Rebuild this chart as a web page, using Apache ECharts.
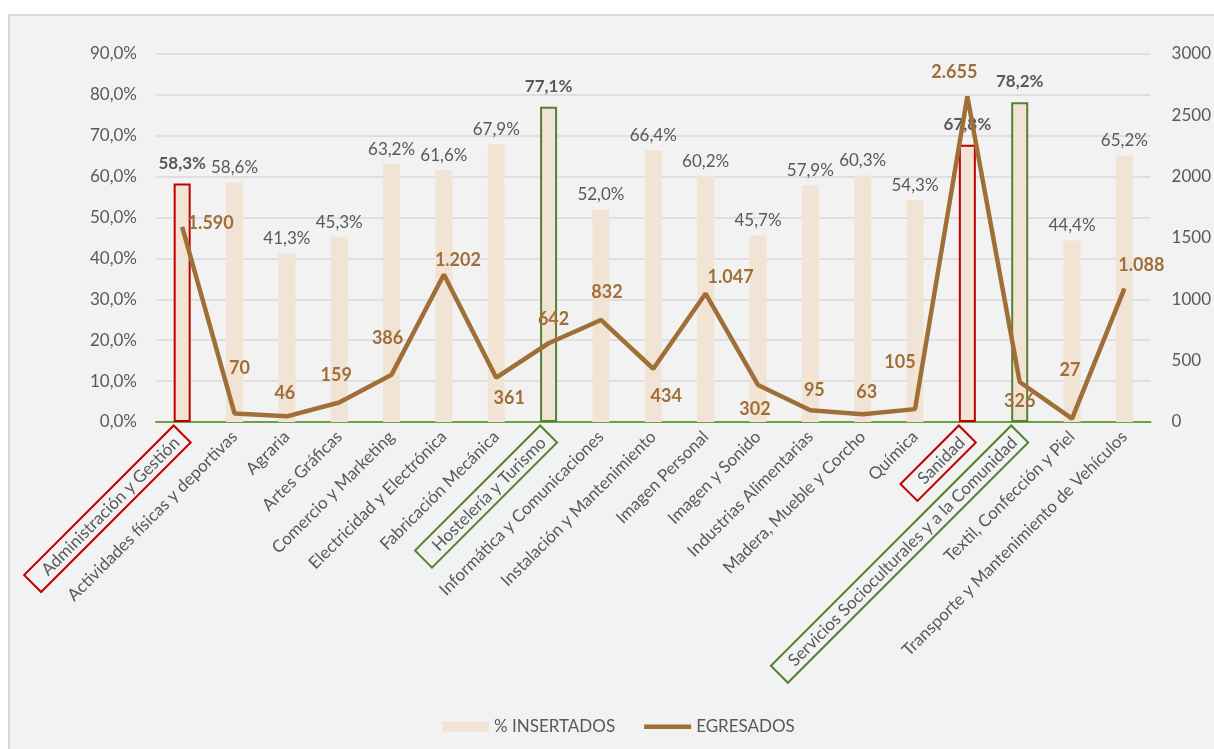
<!DOCTYPE html>
<html><head><meta charset="utf-8">
<script src="https://cdn.jsdelivr.net/npm/echarts@6/dist/echarts.min.js"></script>
<style>
html,body{margin:0;padding:0;background:#fff;overflow:hidden}
#frame{position:absolute;left:8px;top:14px;width:1220px;height:750px;background:#f2f2f2;border-left:2px solid #d9d9d9;border-top:2px solid #d9d9d9}
#chart{position:absolute;left:0;top:0;width:1214px;height:749px}
</style></head>
<body>
<div id="frame"></div>
<div id="chart"></div>
<script>
const categories = ["Administración y Gestión","Actividades físicas y deportivas","Agraria","Artes Gráficas","Comercio y Marketing","Electricidad y Electrónica","Fabricación Mecánica","Hostelería y Turismo","Informática y Comunicaciones","Instalación y Mantenimiento","Imagen Personal","Imagen y Sonido","Industrias Alimentarias","Madera, Mueble y Corcho","Química","Sanidad","Servicios Socioculturales y a la Comunidad","Textil, Confección y Piel","Transporte y Mantenimiento de Vehículos"];
const insertados = [58.3,58.6,41.3,45.3,63.2,61.6,67.9,77.1,52.0,66.4,60.2,45.7,57.9,60.3,54.3,67.8,78.2,44.4,65.2];
const egresados = [1590,70,46,159,386,1202,361,642,832,434,1047,302,95,63,105,2655,326,27,1088];
const redHighlight = [0,15];
const greenHighlight = [7,16];
const leftTicks = {min:0,max:90,interval:10};
const rightTicks = {min:0,max:3000,interval:500};

// label placement styling for line labels: [position, dx, dy]
const linePlace = [['right',0,-4],['top',5,-31],['top',-2,-9],['top',-3,-13],['top',-4,-22],['top',14,0],['bottom',13,6],['top',5,-10],['top',6,-13],['bottom',13,13],['top',25,-2],['bottom',-3,10],['top',4,-6],['top',4,-8],['top',-15,-32],['top',-13,-10],['bottom',0,5],['top',-2,-34],['top',17,-9]];

const RED='#c00000', GREEN='#548235', BAR='#f2e4d5', LINE='#a06f38', TXT='#595959';
const FONT='Lato, "Noto Sans", sans-serif';

function fmtPct(v){return v.toFixed(1).replace('.',',')+'%';}
function fmtNum(v){return String(v).replace(/\B(?=(\d{3})+(?!\d))/g,'.');}

const barData = insertados.map((v,i)=>{
  const isR = redHighlight.includes(i), isG = greenHighlight.includes(i);
  const o = {value:v};
  if(isR||isG){
    o.itemStyle={color:BAR,borderColor:isR?RED:GREEN,borderWidth:2};
    o.label={fontWeight:'bold',distance:12};
  }
  return o;
});
const lineData = egresados.map((v,i)=>({value:v,label:{show:true,position:linePlace[i][0]}}));

const chart = echarts.init(document.getElementById('chart'),null,{renderer:'canvas'});
chart.setOption({
  animation:false,
  textStyle:{fontFamily:FONT},
  grid:{left:156,right:55,top:54,bottom:327,containLabel:false},
  legend:{
    left:437,top:713,itemGap:29,itemWidth:47,itemHeight:10,
    textStyle:{color:TXT,fontSize:17,fontFamily:FONT},
    data:[{name:'% INSERTADOS',icon:'rect'},{name:'EGRESADOS',icon:'path://M0,0M0,3H47V7.5H0ZM47,10'}]
  },
  xAxis:{
    type:'category',data:categories,
    axisLine:{lineStyle:{color:'#70a044',width:2}},
    axisTick:{show:false},
    axisLabel:{
      rotate:45,interval:0,margin:12,color:TXT,fontSize:17,fontFamily:FONT,
      formatter:(v,i)=>{
        if(redHighlight.includes(i)) return '{r|'+v+'}';
        if(greenHighlight.includes(i)) return '{g|'+v+'}';
        return v;
      },
      rich:{
        r:{color:TXT,fontSize:17,fontFamily:FONT,borderColor:RED,borderWidth:2,padding:[4,8,3,16]},
        g:{color:TXT,fontSize:17,fontFamily:FONT,borderColor:GREEN,borderWidth:2,padding:[4,8,3,16]}
      }
    }
  },
  yAxis:[
    {type:'value',min:leftTicks.min,max:leftTicks.max,interval:leftTicks.interval,
     axisLine:{show:false},axisTick:{show:false},
     splitLine:{lineStyle:{color:'#d9d9d9',width:1.5}},
     axisLabel:{color:TXT,fontSize:17,fontFamily:FONT,margin:19,formatter:v=>fmtPct(v)}},
    {type:'value',min:rightTicks.min,max:rightTicks.max,interval:rightTicks.interval,
     axisLine:{show:false},axisTick:{show:false},splitLine:{show:false},
     axisLabel:{color:TXT,fontSize:17,fontFamily:FONT,margin:21,formatter:v=>String(v)}}
  ],
  series:[
    {name:'% INSERTADOS',type:'bar',yAxisIndex:0,barWidth:17,data:barData,
     itemStyle:{color:BAR},
     label:{show:true,position:'top',distance:6,color:TXT,fontSize:17,fontFamily:FONT,formatter:p=>fmtPct(p.value)}},
    {name:'EGRESADOS',type:'line',yAxisIndex:1,data:lineData,symbol:'circle',symbolSize:1,showSymbol:true,
     lineStyle:{color:LINE,width:4.5},itemStyle:{color:LINE},z:5,
     labelLayout:p=>({dx:linePlace[p.dataIndex][1],dy:linePlace[p.dataIndex][2],hideOverlap:false}),
     label:{show:true,color:LINE,fontWeight:'bold',fontSize:18,fontFamily:FONT,distance:5,formatter:p=>fmtNum(p.value)}}
  ]
});
</script>
</body></html>
